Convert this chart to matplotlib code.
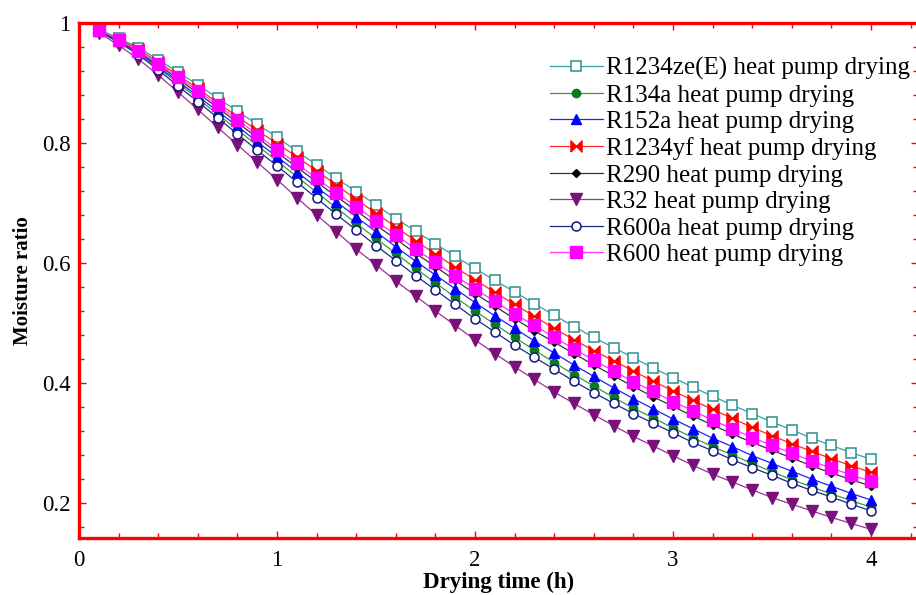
import matplotlib
matplotlib.use("Agg")
import matplotlib.pyplot as plt
from matplotlib.ticker import MultipleLocator, FuncFormatter

plt.rcParams['font.family'] = ['Liberation Serif', 'DejaVu Serif']

time_h = [0.1, 0.2, 0.3, 0.4, 0.5, 0.6, 0.7, 0.8, 0.9, 1.0,
          1.1, 1.2, 1.3, 1.4, 1.5, 1.6, 1.7, 1.8, 1.9, 2.0,
          2.1, 2.2, 2.3, 2.4, 2.5, 2.6, 2.7, 2.8, 2.9, 3.0,
          3.1, 3.2, 3.3, 3.4, 3.5, 3.6, 3.7, 3.8, 3.9, 4.0]

r1234ze = [0.989, 0.975, 0.959, 0.939, 0.918, 0.897, 0.875, 0.853, 0.831, 0.810,
           0.786, 0.764, 0.741, 0.719, 0.697, 0.674, 0.653, 0.632, 0.611, 0.591,
           0.571, 0.552, 0.532, 0.513, 0.494, 0.476, 0.459, 0.442, 0.425, 0.409,
           0.393, 0.378, 0.363, 0.349, 0.335, 0.322, 0.308, 0.296, 0.284, 0.273]
r134a = [0.986, 0.969, 0.949, 0.925, 0.900, 0.874, 0.848, 0.822, 0.796, 0.770,
         0.744, 0.718, 0.692, 0.666, 0.641, 0.616, 0.591, 0.567, 0.543, 0.520,
         0.498, 0.476, 0.455, 0.434, 0.414, 0.395, 0.376, 0.358, 0.342, 0.325,
         0.309, 0.294, 0.280, 0.266, 0.252, 0.239, 0.227, 0.215, 0.204, 0.193]
r152a = [0.987, 0.970, 0.951, 0.927, 0.903, 0.878, 0.853, 0.828, 0.802, 0.777,
         0.752, 0.726, 0.702, 0.677, 0.652, 0.627, 0.603, 0.580, 0.557, 0.534,
         0.512, 0.491, 0.470, 0.450, 0.430, 0.411, 0.392, 0.374, 0.357, 0.340,
         0.324, 0.308, 0.294, 0.279, 0.266, 0.253, 0.240, 0.228, 0.216, 0.205]
r1234yf = [0.988, 0.973, 0.956, 0.935, 0.913, 0.891, 0.867, 0.844, 0.821, 0.799,
           0.777, 0.754, 0.730, 0.706, 0.683, 0.660, 0.637, 0.615, 0.593, 0.572,
           0.551, 0.531, 0.511, 0.491, 0.472, 0.454, 0.437, 0.420, 0.403, 0.387,
           0.371, 0.356, 0.341, 0.326, 0.312, 0.299, 0.286, 0.274, 0.262, 0.251]
r290 = [0.988, 0.971, 0.952, 0.930, 0.907, 0.883, 0.859, 0.834, 0.809, 0.784,
        0.760, 0.735, 0.711, 0.687, 0.663, 0.640, 0.616, 0.594, 0.571, 0.549,
        0.528, 0.507, 0.487, 0.468, 0.449, 0.430, 0.412, 0.394, 0.377, 0.361,
        0.345, 0.330, 0.315, 0.301, 0.288, 0.275, 0.262, 0.250, 0.239, 0.228]
r32 = [0.984, 0.963, 0.940, 0.913, 0.885, 0.856, 0.826, 0.797, 0.768, 0.739,
       0.709, 0.680, 0.652, 0.623, 0.597, 0.570, 0.545, 0.520, 0.496, 0.472,
       0.449, 0.427, 0.406, 0.385, 0.366, 0.347, 0.329, 0.311, 0.295, 0.279,
       0.263, 0.248, 0.235, 0.222, 0.209, 0.198, 0.187, 0.176, 0.166, 0.156]
r600a = [0.986, 0.968, 0.947, 0.922, 0.895, 0.869, 0.842, 0.815, 0.788, 0.762,
         0.735, 0.708, 0.681, 0.655, 0.629, 0.604, 0.579, 0.555, 0.531, 0.507,
         0.485, 0.463, 0.443, 0.423, 0.403, 0.384, 0.366, 0.349, 0.333, 0.317,
         0.301, 0.287, 0.272, 0.259, 0.246, 0.233, 0.221, 0.210, 0.198, 0.187]
r600 = [0.989, 0.972, 0.953, 0.932, 0.910, 0.887, 0.863, 0.839, 0.814, 0.789,
        0.766, 0.741, 0.717, 0.694, 0.670, 0.647, 0.623, 0.601, 0.579, 0.557,
        0.536, 0.515, 0.496, 0.476, 0.457, 0.438, 0.420, 0.402, 0.386, 0.369,
        0.354, 0.338, 0.324, 0.309, 0.296, 0.283, 0.270, 0.258, 0.247, 0.236]

labels = ["R1234ze(E) heat pump drying", "R134a heat pump drying",
          "R152a heat pump drying", "R1234yf heat pump drying",
          "R290 heat pump drying", "R32 heat pump drying",
          "R600a heat pump drying", "R600 heat pump drying"]

bowtie = [(-1, -1), (-1, 1), (0, 0), (1, 1), (1, -1), (0, 0), (-1, -1)]

styles = [
    dict(color='#3aa0a0', marker='s', ms=7, mfc='white', mec='#2a9090', mew=1.1),
    dict(color='#3a9a3a', marker='o', ms=6, mfc='#0a7a1a', mec='#0a7a1a'),
    dict(color='#2020ff', marker='^', ms=7, mfc='#0000ff', mec='#0000ff'),
    dict(color='#ff2a2a', marker=bowtie, ms=8, mfc='#ff0000', mec='#ff0000'),
    dict(color='#333333', marker='D', ms=4, mfc='black', mec='black'),
    dict(color='#993399', marker='v', ms=8, mfc='#7a107a', mec='#7a107a'),
    dict(color='#1a2a8a', marker='o', ms=6.5, mfc='white', mec='#101880', mew=1.1),
    dict(color='#ff33ff', marker='s', ms=8, mfc='#ff00ff', mec='#ff00ff'),
]

series = [r1234ze, r134a, r152a, r1234yf, r290, r32, r600a, r600]

W, H = 916, 595
left_px, right_px, top_px, bottom_px = 79, 918, 23, 538
fig = plt.figure(figsize=(W/100, H/100), dpi=100)
ax = fig.add_axes([left_px/W, 1-bottom_px/H, (right_px-left_px)/W, (bottom_px-top_px)/H])

for vals, lab, st in zip(series, labels, styles):
    ax.plot(time_h, vals, label=lab, lw=0.9, **st)

ax.set_xlim(0, (right_px-left_px)/198.0)
ax.set_ylim(0.1417, 1.0)

ax.xaxis.set_major_locator(MultipleLocator(1))
ax.xaxis.set_minor_locator(MultipleLocator(0.2))
ax.yaxis.set_major_locator(MultipleLocator(0.2))
ax.yaxis.set_minor_locator(MultipleLocator(0.04))
ax.yaxis.set_major_formatter(FuncFormatter(lambda v, p: f"{v:g}"))

for side in ['left', 'bottom', 'top']:
    ax.spines[side].set_color('red')
    ax.spines[side].set_linewidth(2.4)
ax.spines['right'].set_visible(False)

ax.tick_params(which='both', direction='in', colors='red', labelcolor='black',
               top=True, right=True, width=1)
ax.tick_params(which='major', length=5, labelsize=16.5)
ax.tick_params(which='minor', length=3.3)
ax.tick_params(axis='x', which='major', pad=9)
ax.tick_params(axis='y', which='major', pad=6)

ax.set_ylabel("Moisture ratio", fontsize=15, fontweight='bold')
ax.yaxis.set_label_coords((33-left_px)/(right_px-left_px), 0.5)
ax.set_xlabel("Drying time (h)", fontsize=16.5, fontweight='bold')
ax.xaxis.set_label_coords(0.5, (bottom_px-572)/(bottom_px-top_px))

leg = ax.legend(loc='upper left',
                bbox_to_anchor=((550-left_px)/(right_px-left_px), (bottom_px-57)/(bottom_px-top_px)),
                frameon=False, fontsize=18, handlelength=2.1, handletextpad=0.16,
                labelspacing=0.16, borderpad=0, borderaxespad=0, numpoints=1)

fig.savefig("out.png", dpi=100)
